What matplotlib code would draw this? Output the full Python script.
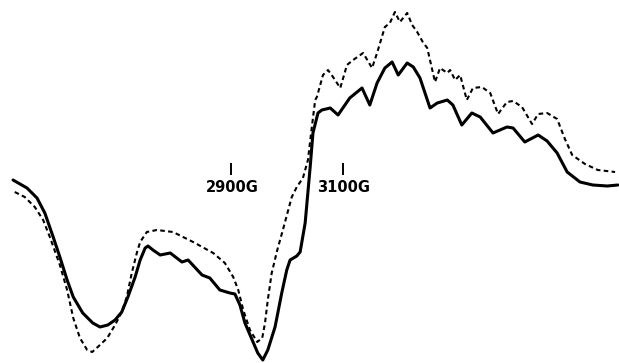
import numpy as np
import matplotlib
matplotlib.use("Agg")
import matplotlib.pyplot as plt

# magnetic field (G) and signal (arb. units) for the two traces
field_a = [2509, 2534, 2552, 2566, 2581, 2593, 2606, 2617, 2634, 2652, 2665,
           2679, 2692, 2704, 2715, 2728, 2737, 2746, 2751, 2760, 2773, 2791,
           2812, 2823, 2848, 2862, 2880, 2898, 2907, 2916, 2925, 2938, 2948,
           2957, 2966, 2979, 2991, 3000, 3006, 3018, 3024, 3033, 3042, 3047,
           3056, 3063, 3078, 3092, 3113, 3135, 3149, 3162, 3176, 3189, 3200,
           3216, 3227, 3239, 3257, 3270, 3288, 3298, 3314, 3332, 3347, 3370,
           3395, 3406, 3427, 3451, 3467, 3485, 3503, 3526, 3549, 3575, 3594]
signal_a = [183, 175, 165, 150, 126, 106, 83, 66, 50, 40, 36,
            38, 43, 51, 66, 86, 103, 115, 117, 113, 108, 110,
            101, 103, 88, 85, 73, 70, 69, 58, 40, 23, 10,
            3, 13, 36, 70, 93, 103, 107, 111, 140, 196, 230,
            250, 253, 255, 248, 265, 275, 258, 280, 295, 301, 288,
            300, 296, 285, 255, 260, 263, 258, 238, 250, 246, 230,
            236, 235, 221, 228, 222, 210, 191, 181, 178, 177, 178]

field_b = [2512, 2530, 2548, 2563, 2575, 2593, 2606, 2617, 2629, 2642, 2651,
           2661, 2678, 2692, 2704, 2713, 2722, 2731, 2737, 2749, 2767, 2796,
           2832, 2868, 2889, 2904, 2913, 2922, 2934, 2947, 2956, 2961, 2966,
           2973, 2983, 2993, 3009, 3018, 3029, 3038, 3045, 3051, 3054,
           3065, 3074, 3083, 3096, 3108, 3119, 3137, 3153, 3162, 3176, 3185,
           3194, 3203, 3216, 3225, 3234, 3244, 3252, 3266, 3275, 3288, 3293,
           3302, 3311, 3323, 3334, 3350, 3365, 3379, 3395, 3406, 3422, 3440,
           3451, 3467, 3485, 3499, 3512, 3535, 3558, 3589]
signal_b = [171, 166, 156, 143, 126, 98, 73, 45, 25, 13, 11,
            16, 25, 38, 51, 66, 90, 110, 121, 131, 133, 131,
            121, 110, 100, 86, 73, 53, 33, 21, 25, 40, 63,
            90, 113, 133, 166, 176, 185, 203, 236, 263, 266,
            288, 293, 286, 275, 298, 303, 310, 295, 310, 336, 340,
            351, 341, 350, 338, 331, 321, 315, 281, 295, 290, 293,
            283, 288, 263, 275, 276, 270, 249, 261, 262, 256, 239,
            249, 250, 244, 224, 208, 199, 193, 191]

marker_fields = [2900, 3100]
marker_labels = ["2900G", "3100G"]

fig = plt.figure(figsize=(6.19, 3.63), dpi=100)
ax = fig.add_axes([0, 0, 1, 1])

ax.plot(field_a, signal_a, color="black", lw=2.2,
        solid_joinstyle="round", solid_capstyle="round")
dashed, = ax.plot(field_b, signal_b, color="black", lw=1.5)
dashed.set_dashes((2.2, 1.6))

for f, lab in zip(marker_fields, marker_labels):
    ax.vlines(f, 188, 200, color="black", lw=1.4)
    ax.text(f + 2, 176, lab, ha="center", va="center",
            fontsize=10.5, fontweight="heavy", color="black")

ax.set_xlim(2485.6, 3596)
ax.set_ylim(0, 363)
ax.axis("off")

fig.savefig("out.png", dpi=100, facecolor="white")
